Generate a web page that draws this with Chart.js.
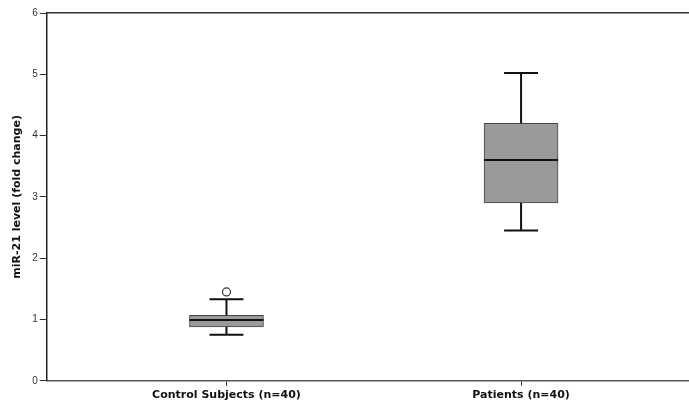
<!DOCTYPE html>
<html lang="en">
<head>
    <meta charset="UTF-8">
    <title>miR-21 level box plot</title>
    <script src="https://cdn.jsdelivr.net/npm/chart.js"></script>
    <style>
        body { margin: 0; background: #fff; }
    </style>
</head>
<body>
    <canvas id="boxChart" width="689" height="405"></canvas>
    <script>
        // groups and box-plot summaries
        const groups = ['Control Subjects (n=40)', 'Patients (n=40)'];
        const positions = [1, 2];
        const whiskerLow = [0.75, 2.45];
        const q1 = [0.88, 2.9];
        const median = [0.99, 3.6];
        const q3 = [1.07, 4.2];
        const whiskerHigh = [1.33, 5.02];
        const outliers = [[1.45], []];
        const yTicks = [0, 1, 2, 3, 4, 5, 6];

        // whiskers, caps and median lines, placed with the chart's own scales
        const whiskerPlugin = {
            id: 'whiskers',
            afterDatasetsDraw(chart) {
                const ctx = chart.ctx;
                const xs = chart.scales.x;
                const ys = chart.scales.y;
                ctx.save();
                ctx.strokeStyle = '#111';
                ctx.lineCap = 'butt';
                positions.forEach((p, i) => {
                    const cx = xs.getPixelForValue(p);
                    const capHalf = 17;
                    const boxHalf = 37;
                    ctx.lineWidth = 2;
                    ctx.beginPath();
                    ctx.moveTo(cx, ys.getPixelForValue(q3[i]));
                    ctx.lineTo(cx, ys.getPixelForValue(whiskerHigh[i]));
                    ctx.moveTo(cx, ys.getPixelForValue(q1[i]));
                    ctx.lineTo(cx, ys.getPixelForValue(whiskerLow[i]));
                    ctx.stroke();
                    ctx.beginPath();
                    [whiskerHigh[i], whiskerLow[i]].forEach(v => {
                        const y = ys.getPixelForValue(v);
                        ctx.moveTo(cx - capHalf, y);
                        ctx.lineTo(cx + capHalf, y);
                    });
                    ctx.stroke();
                    const my = ys.getPixelForValue(median[i]);
                    ctx.beginPath();
                    ctx.moveTo(cx - boxHalf, my);
                    ctx.lineTo(cx + boxHalf, my);
                    ctx.stroke();
                });
                ctx.restore();
            }
        };

        const outlierPoints = [];
        outliers.forEach((list, i) => list.forEach(v => outlierPoints.push({ x: positions[i], y: v })));

        new Chart(document.getElementById('boxChart'), {
            type: 'bar',
            data: {
                datasets: [{
                    label: 'IQR',
                    data: positions.map((p, i) => ({ x: p, y: [q1[i], q3[i]] })),
                    backgroundColor: '#9a9a9a',
                    borderColor: '#444',
                    borderWidth: 1,
                    borderSkipped: false,
                    barThickness: 74,
                    order: 2
                }, {
                    type: 'scatter',
                    label: 'Outliers',
                    data: outlierPoints,
                    pointStyle: 'circle',
                    pointRadius: 4,
                    pointBackgroundColor: '#fff',
                    pointBorderColor: '#333',
                    pointBorderWidth: 1.2,
                    order: 1
                }]
            },
            options: {
                responsive: false,
                animation: false,
                layout: { autoPadding: false, padding: { top: 5, right: 0, left: 11, bottom: 0 } },
                plugins: {
                    legend: { display: false },
                    tooltip: { enabled: false }
                },
                scales: {
                    x: {
                        type: 'linear',
                        min: 0.39,
                        max: 2.57,
                        offset: false,
                        afterBuildTicks: (scale) => {
                            scale.ticks = positions.map(v => ({ value: v }));
                        },
                        ticks: {
                            callback: (v) => groups[positions.indexOf(v)],
                            color: '#111',
                            font: { family: 'DejaVu Sans', size: 11, weight: 'bold' },
                            maxRotation: 0,
                            padding: 3
                        },
                        grid: { display: true, offset: false, drawOnChartArea: false, tickLength: 5, color: '#333' },
                        border: { display: true, color: '#555', width: 1.5 }
                    },
                    x2: {
                        type: 'linear',
                        position: 'top',
                        min: 0.39,
                        max: 2.57,
                        offset: false,
                        ticks: { display: false },
                        grid: { display: false },
                        border: { display: true, color: '#333', width: 1.5 }
                    },
                    y: {
                        min: 0,
                        max: 6,
                        afterBuildTicks: (scale) => {
                            scale.ticks = yTicks.map(v => ({ value: v }));
                        },
                        ticks: {
                            color: '#333',
                            font: { family: 'Liberation Sans, Arial', size: 10 },
                            padding: 2
                        },
                        grid: { display: true, drawOnChartArea: false, tickLength: 7, color: '#333' },
                        border: { display: true, color: '#222', width: 1.5 },
                        title: {
                            display: true,
                            text: 'miR-21 level (fold change)',
                            color: '#111',
                            font: { family: 'DejaVu Sans', size: 11, weight: 'bold' },
                            padding: { top: 0, bottom: 6 }
                        }
                    }
                }
            },
            plugins: [whiskerPlugin]
        });
    </script>
</body>
</html>
